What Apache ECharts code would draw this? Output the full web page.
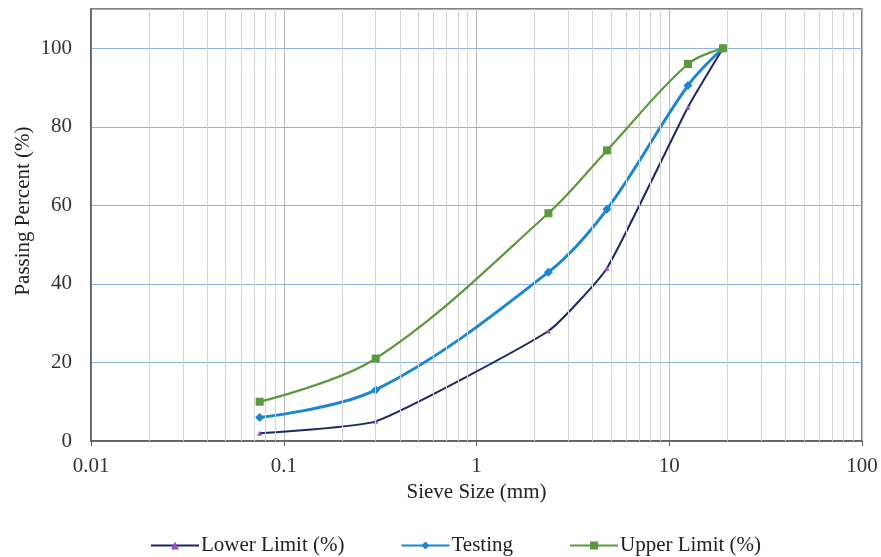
<!DOCTYPE html>
<html>
<head>
<meta charset="utf-8">
<script src="https://cdn.jsdelivr.net/npm/echarts@6/dist/echarts.min.js"></script>
<style>html,body{margin:0;padding:0;background:#fff}#c{width:881px;height:557px}</style>
</head>
<body>
<div id="c"></div>
<script>
const sieveSizes = [0.075, 0.3, 2.36, 4.75, 12.5, 19];
const lowerLimit = [2, 5, 28, 44, 85, 100];
const testing = [6, 13, 43, 59, 90.5, 100];
const upperLimit = [10, 21, 58, 74, 96, 100];
const minorGridValues = [0.02,0.03,0.04,0.05,0.06,0.07,0.08,0.09,
  0.2,0.3,0.4,0.5,0.6,0.7,0.8,0.9,
  2,3,4,5,6,7,8,9,
  20,30,40,50,60,70,80,90];
const yTicks = [0, 20, 40, 60, 80, 100];

const font = 'Liberation Serif';
const pairs = arr => sieveSizes.map((x, i) => [x, arr[i]]);

const chart = echarts.init(document.getElementById('c'));
chart.setOption({
  animation: false,
  textStyle: { fontFamily: font },
  grid: { left: 91, right: 19, top: 9, bottom: 116, show: true, borderColor: '#5a5a5a', borderWidth: 1.5, backgroundColor: 'transparent' },
  legend: {
    top: 530, left: 145, itemGap: 56, itemWidth: 48, itemHeight: 10,
    textStyle: { fontFamily: font, fontSize: 21, color: '#222', padding: [0, 0, 0, -3] },
    data: ['Lower Limit (%)', 'Testing', 'Upper Limit (%)']
  },
  xAxis: {
    type: 'log', logBase: 10, min: 0.01, max: 100,
    name: 'Sieve Size (mm)', nameLocation: 'middle', nameGap: 40,
    nameTextStyle: { fontFamily: font, fontSize: 21, color: '#222' },
    axisLine: { lineStyle: { color: '#5a5a5a', width: 1.5 } },
    axisTick: { show: true, length: 5, lineStyle: { color: '#5a5a5a' } },
    axisLabel: { fontFamily: font, fontSize: 21, color: '#333', margin: 15,
      formatter: v => String(+v.toPrecision(3)) },
    splitLine: { show: true, lineStyle: { color: '#b8b8b8', width: 1 } }
  },
  yAxis: {
    type: 'value', min: 0, max: 110, interval: 20,
    name: 'Passing Percent (%)', nameLocation: 'middle', nameGap: 57, nameRotate: 90,
    nameMoveOverlap: false,
    nameTextStyle: { fontFamily: font, fontSize: 21, color: '#222', padding: [0, 0, 0, 28] },
    axisLine: { show: true, lineStyle: { color: '#5a5a5a', width: 1.5 } },
    axisTick: { show: false },
    axisLabel: { fontFamily: font, fontSize: 21, color: '#333', margin: 19,
      formatter: v => yTicks.indexOf(v) >= 0 ? String(v) : '' },
    splitLine: { show: true, lineStyle: { color: '#8db3de', width: 1.2 } }
  },
  series: [
    {
      name: 'minor', type: 'line', data: [], silent: true,
      markLine: {
        silent: true, symbol: 'none', label: { show: false },
        lineStyle: { color: '#d4d4d4', width: 1, type: 'solid' },
        data: minorGridValues.map(v => ({ xAxis: v }))
      }
    },
    {
      name: 'Lower Limit (%)', type: 'line', data: pairs(lowerLimit), smooth: 0.15,
      symbol: 'triangle', symbolSize: 5,
      lineStyle: { color: '#1d2766', width: 2 },
      itemStyle: { color: '#9a4dc4' }, color: '#1d2766', z: 3
    },
    {
      name: 'Testing', type: 'line', data: pairs(testing), smooth: 0.35,
      symbol: 'diamond', symbolSize: 9,
      lineStyle: { color: '#1b86d1', width: 3 },
      itemStyle: { color: '#1b86d1' }, color: '#1b86d1', z: 4
    },
    {
      name: 'Upper Limit (%)', type: 'line', data: pairs(upperLimit), smooth: 0.35,
      symbol: 'rect', symbolSize: 8,
      lineStyle: { color: '#5b9a3c', width: 2.2 },
      itemStyle: { color: '#5b9a3c' }, color: '#5b9a3c', z: 5
    }
  ]
});
</script>
</body>
</html>
